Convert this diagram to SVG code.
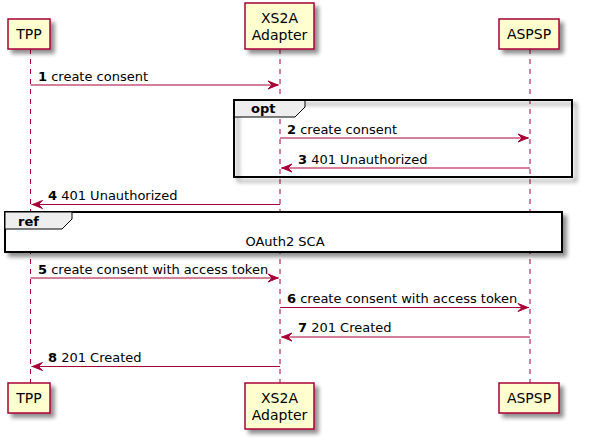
<svg xmlns="http://www.w3.org/2000/svg" width="590" height="447" viewBox="0 0 590 447">
<style>
text{font-family:"DejaVu Sans","Liberation Sans",sans-serif;fill:#000}
.p{fill:#FEFECE;stroke:#A80036;stroke-width:1.5}
.pt{font-size:14px;text-anchor:middle}
.life{stroke:#A80036;stroke-width:1;stroke-dasharray:5,5;fill:none}
.msg{stroke:#A80036;stroke-width:1;fill:none}
.ah{fill:#A80036;stroke:#A80036;stroke-width:1}
.m{font-size:13px}
.frame{fill:none;stroke:#000;stroke-width:2}
.tab{fill:#EEEEEE;stroke:#000;stroke-width:1}
.ft{font-size:13px;font-weight:bold}
</style>
<defs>
<filter id="sh" x="-20%" y="-20%" width="150%" height="150%">
<feGaussianBlur in="SourceAlpha" stdDeviation="2" result="b"/>
<feOffset in="b" dx="4" dy="4" result="o"/>
<feComponentTransfer in="o" result="c"><feFuncA type="linear" slope="0.45"/></feComponentTransfer>
<feMerge><feMergeNode in="c"/><feMergeNode in="SourceGraphic"/></feMerge>
</filter>
</defs>
<g id="lifelines">
<line class="life" x1="30.5" y1="49" x2="30.5" y2="383"/>
<line class="life" x1="280" y1="49" x2="280" y2="383"/>
<line class="life" x1="530" y1="49" x2="530" y2="383"/>
</g>
<g id="frame-opt">
<rect class="frame" x="234" y="100" width="338" height="77" filter="url(#sh)" fill="#fff" style="fill:none"/>
<polygon class="tab" points="234,100 305,100 305,107 295,117 234,117"/>
<rect class="frame" x="234" y="100" width="338" height="77"/>
<text class="ft" x="251" y="113">opt</text>
</g>
<g id="ref-oauth2">
<rect x="5" y="212" width="557" height="40" fill="#fff" stroke="#000" stroke-width="2" filter="url(#sh)"/>
<polygon class="tab" points="5,212 72,212 72,219 62,229 5,229"/>
<text class="ft" x="18" y="225.5">ref</text>
<text class="m" x="285" y="246" text-anchor="middle">OAuth2 SCA</text>
</g>
<g id="connectors">
<line class="msg" x1="30.5" y1="85" x2="279" y2="85"/>
<polygon class="ah" points="268,81 278,85 268,89 272,85"/>
<text class="m" x="38" y="80.5"><tspan font-weight="bold">1</tspan> create consent</text>
<line class="msg" x1="280" y1="138" x2="529" y2="138"/>
<polygon class="ah" points="518,134 528,138 518,142 522,138"/>
<text class="m" x="287" y="133.5"><tspan font-weight="bold">2</tspan> create consent</text>
<line class="msg" x1="281" y1="168" x2="530" y2="168"/>
<polygon class="ah" points="292,164 282,168 292,172 288,168"/>
<text class="m" x="298" y="163.5"><tspan font-weight="bold">3</tspan> 401 Unauthorized</text>
<line class="msg" x1="31.5" y1="204.5" x2="280" y2="204.5"/>
<polygon class="ah" points="42.5,200.5 32.5,204.5 42.5,208.5 38.5,204.5"/>
<text class="m" x="48" y="199.5"><tspan font-weight="bold">4</tspan> 401 Unauthorized</text>
<line class="msg" x1="30.5" y1="278" x2="279" y2="278"/>
<polygon class="ah" points="268,274 278,278 268,282 272,278"/>
<text class="m" x="38" y="273.5"><tspan font-weight="bold">5</tspan> create consent with access token</text>
<line class="msg" x1="280" y1="307.5" x2="529" y2="307.5"/>
<polygon class="ah" points="518,303.5 528,307.5 518,311.5 522,307.5"/>
<text class="m" x="287" y="302.5"><tspan font-weight="bold">6</tspan> create consent with access token</text>
<line class="msg" x1="281" y1="337" x2="530" y2="337"/>
<polygon class="ah" points="292,333 282,337 292,341 288,337"/>
<text class="m" x="298" y="332"><tspan font-weight="bold">7</tspan> 201 Created</text>
<line class="msg" x1="31.5" y1="366.5" x2="280" y2="366.5"/>
<polygon class="ah" points="42.5,362.5 32.5,366.5 42.5,370.5 38.5,366.5"/>
<text class="m" x="48" y="361.5"><tspan font-weight="bold">8</tspan> 201 Created</text>
</g>
<g id="TPP">
<rect class="p" x="8" y="19" width="42" height="30" filter="url(#sh)"/>
<text class="pt" x="29" y="39">TPP</text>
<rect class="p" x="8" y="383" width="42" height="30" filter="url(#sh)"/>
<text class="pt" x="29" y="403">TPP</text>
</g>
<g id="XS2A">
<rect class="p" x="245" y="3" width="69" height="46" filter="url(#sh)"/>
<text class="pt" x="279.5" y="23">XS2A</text>
<text class="pt" x="279.5" y="39.5">Adapter</text>
<rect class="p" x="245" y="383" width="69" height="46" filter="url(#sh)"/>
<text class="pt" x="279.5" y="403">XS2A</text>
<text class="pt" x="279.5" y="419.5">Adapter</text>
</g>
<g id="ASPSP">
<rect class="p" x="499" y="19" width="60" height="30" filter="url(#sh)"/>
<text class="pt" x="529" y="39">ASPSP</text>
<rect class="p" x="499" y="383" width="60" height="30" filter="url(#sh)"/>
<text class="pt" x="529" y="403">ASPSP</text>
</g>
</svg>
